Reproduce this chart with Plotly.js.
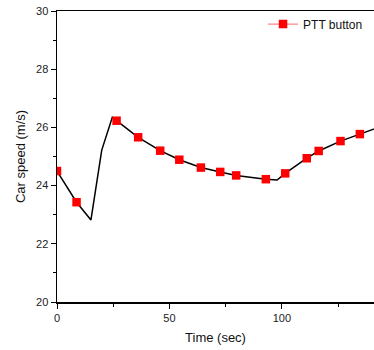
<!DOCTYPE html>
<html>
<head>
<meta charset="utf-8">
<script src="https://cdn.plot.ly/plotly-3.0.1.min.js"></script>
<style>html,body{margin:0;padding:0;background:#fff;}#chart{width:374px;height:350px;}</style>
</head>
<body>
<div id="chart"></div>
<script>
// Full line path (time, speed)
const lineTime  = [0, 8.7, 15.1, 19.9, 24.6, 26.5, 36.1, 45.9, 54.4, 64.0, 72.6, 79.7, 92.9, 97.9, 101.5, 111.1, 116.4, 126.1, 134.7, 143];
const lineSpeed = [24.5, 23.43, 22.82, 25.22, 26.35, 26.23, 25.66, 25.2, 24.89, 24.62, 24.47, 24.35, 24.22, 24.19, 24.42, 24.94, 25.19, 25.53, 25.77, 26.0];
// Marker points
const markTime  = [0, 8.7, 26.5, 36.1, 45.9, 54.4, 64.0, 72.6, 79.7, 92.9, 101.5, 111.1, 116.4, 126.1, 134.7];
const markSpeed = [24.5, 23.43, 26.23, 25.66, 25.2, 24.89, 24.62, 24.47, 24.35, 24.22, 24.42, 24.94, 25.19, 25.53, 25.77];
const seriesName = 'PTT button';

const font = {family: '"Liberation Sans", Arial, sans-serif', size: 11, color: '#222'};

const traces = [
  {x: lineTime, y: lineSpeed, mode: 'lines', line: {color: 'black', width: 1.5}, showlegend: false, hoverinfo: 'skip'},
  {x: markTime, y: markSpeed, mode: 'markers', marker: {symbol: 'square', color: 'red', size: 8.5}, showlegend: false},
  {x: [null], y: [null], mode: 'lines+markers', name: seriesName,
   line: {color: '#ff6666', width: 1}, marker: {symbol: 'square', color: 'red', size: 8.5}}
];

const layout = {
  width: 374, height: 350,
  margin: {l: 57, r: 0, t: 11, b: 48},
  paper_bgcolor: 'white', plot_bgcolor: 'white',
  font: font,
  showlegend: true,
  legend: {x: 0.65, y: 0.955, xanchor: 'left', yanchor: 'middle', bgcolor: 'rgba(0,0,0,0)',
           font: {family: font.family, size: 12, color: '#111'}},
  xaxis: {
    range: [0, 141], tickmode: 'linear', tick0: 0, dtick: 50,
    ticks: 'outside', ticklen: 5, tickwidth: 1, tickcolor: 'black',
    showline: true, linecolor: 'black', linewidth: 1.5, mirror: true,
    showgrid: false, zeroline: false,
    minor: {dtick: 25, ticks: 'outside', ticklen: 3, tickcolor: 'black', showgrid: false},
    title: {text: 'Time (sec)', font: {family: font.family, size: 13, color: '#111'}, standoff: 10},
    tickfont: font
  },
  yaxis: {
    range: [20, 30], tickmode: 'linear', tick0: 20, dtick: 2,
    ticks: 'outside', ticklen: 5, tickwidth: 1, tickcolor: 'black',
    showline: true, linecolor: 'black', linewidth: 1.5, mirror: false,
    showgrid: false, zeroline: false,
    minor: {dtick: 1, ticks: 'outside', ticklen: 3, tickcolor: 'black', showgrid: false},
    title: {text: 'Car speed (m/s)', font: {family: font.family, size: 13, color: '#111'}, standoff: 7},
    tickfont: font
  }
};

Plotly.newPlot('chart', traces, layout, {staticPlot: true, displayModeBar: false});
</script>
</body>
</html>
